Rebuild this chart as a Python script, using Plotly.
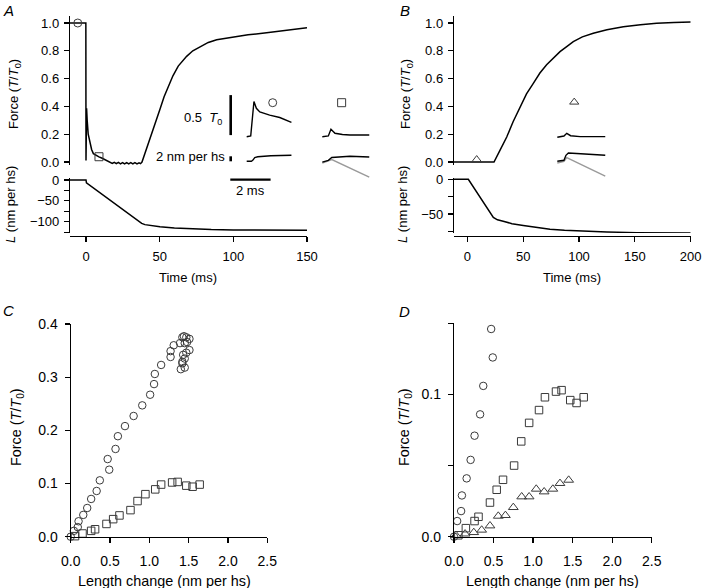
import plotly.graph_objects as go

W, H = 703, 588

# ---------------- DATA ----------------
# Panel A: force (T/T0) and length (nm per hs) vs time (ms)
tA_force = [-11, -0.1, 0.0, 0.4, 0.8, 1.5, 2.7, 3.8, 5.0, 7.0, 8.8, 11, 13, 15, 16.4, 17.8, 19.2,
            20.6, 22, 23.4, 24.8, 26.2, 27.6, 29, 30.4, 31.8, 33.2, 34.6, 36, 37, 38, 40, 43.4,
            46.8, 50.2, 53, 56, 59, 62.6, 68.3, 72.5, 77.4, 83, 88.7, 99.7, 110, 122.6, 135, 150]
fA = [1.0, 1.0, 0.01, 0.386, 0.30, 0.20, 0.137, 0.09, 0.06, 0.045, 0.037, 0.027, 0.016, 0.008,
      0.0, -0.01, -0.002, -0.012, -0.003, -0.013, -0.004, -0.014, -0.004, -0.014, -0.005, -0.014,
      -0.005, -0.014, -0.006, -0.012, 0.0, 0.06, 0.17, 0.28, 0.38, 0.47, 0.55, 0.62, 0.69, 0.76,
      0.80, 0.83, 0.86, 0.88, 0.90, 0.915, 0.93, 0.948, 0.966]
tA_len = [-11, 0, 0.3, 37.8, 40, 44, 50.2, 60, 72.8, 85, 100, 125, 150]
LA = [0, 0, -7, -104, -107, -109.5, -112, -115, -117.5, -119, -120, -120.5, -120.5]

# Panel B
tB_force = [-12, 23.9, 29, 35.3, 41, 47.2, 53, 59.1, 65, 71, 77, 83, 89, 94.9, 103, 112.8, 125,
            139.7, 155, 169.5, 185, 200]
fB = [0, 0, 0.08, 0.18, 0.29, 0.40, 0.49, 0.566, 0.64, 0.70, 0.75, 0.794, 0.83, 0.866, 0.90,
      0.926, 0.952, 0.973, 0.988, 0.998, 1.003, 1.008]
tB_len = [-12, 0.9, 23.3, 27, 33, 40, 50.1, 62, 74, 87, 100.9, 125, 151.6, 175, 200]
LB = [0, 0, -55, -58.5, -61, -64, -66.6, -69.5, -72, -73.5, -74.6, -76, -77, -77.3, -77.5]

# time points of the insets (symbols on the force traces)
markA_t = [-5.6, 8.8]
markA_f = [1.0, 0.038]
markB_t = [8.4]
markB_f = [0.014]

# Panels C/D: force vs length change
circ_x = [0.0, 0.04, 0.09, 0.1, 0.16, 0.21, 0.26, 0.33, 0.37, 0.49, 0.47, 0.57, 0.6, 0.69, 0.8,
          0.91, 1.01, 1.06, 1.07, 1.15, 1.27, 1.27, 1.31, 1.39, 1.42, 1.44, 1.47, 1.51, 1.48, 1.45,
          1.51, 1.47, 1.43, 1.45, 1.42, 1.40, 1.45, 1.42]
circ_y = [0.0, 0.011, 0.018, 0.029, 0.041, 0.054, 0.071, 0.086, 0.106, 0.126, 0.146, 0.165, 0.189,
          0.208, 0.227, 0.247, 0.267, 0.287, 0.306, 0.323, 0.338, 0.349, 0.36, 0.364, 0.375, 0.377,
          0.375, 0.372, 0.366, 0.364, 0.351, 0.346, 0.342, 0.335, 0.326, 0.315, 0.318, 0.329]
sq_x = [0.055, 0.15, 0.26, 0.31, 0.455, 0.54, 0.62, 0.76, 0.85, 0.95, 1.075, 1.15, 1.29, 1.36,
        1.47, 1.55, 1.64]
sq_y = [0.001, 0.006, 0.011, 0.014, 0.024, 0.033, 0.040, 0.050, 0.067, 0.080, 0.089, 0.098,
        0.102, 0.103, 0.096, 0.094, 0.098]
tri_x = [0.025, 0.14, 0.25, 0.35, 0.455, 0.56, 0.65, 0.75, 0.856, 0.95, 1.04, 1.14, 1.25, 1.34, 1.45]
tri_y = [0.001, 0.002, 0.003, 0.0047, 0.0077, 0.0145, 0.015, 0.0206, 0.0281, 0.0281, 0.0335,
         0.0316, 0.0335, 0.0375, 0.0398]

# Insets: fast time course (ms), force (T/T0), length (nm per hs)
ic_t_f = [0, 0.2, 0.36, 0.48, 0.65, 1.14, 1.64, 2.22]
ic_f = [0, 0.01, 0.44, 0.355, 0.31, 0.27, 0.24, 0.18]
ic_t_l = [0, 0.23, 0.3, 0.4, 0.55, 0.75, 1.2, 1.7, 2.22]
ic_l = [0, 0, 0.4, 1.5, 1.8, 2.0, 2.2, 2.3, 2.4]

is_t_f = [0, 0.3, 0.43, 0.63, 1.0, 1.37, 2.33]
is_f = [0, 0.01, 0.093, 0.043, 0.028, 0.021, 0.021]
is_t_l = [0, 0.3, 0.47, 1.37, 2.33]
is_l = [-0.3, 0.4, 1.5, 2.0, 1.7]
is_t_g = [0, 0.3, 0.47, 2.33]
is_g = [-0.7, 0.0, 0.7, -6.3]

it_t_f = [0, 0.33, 0.47, 0.66, 1.13, 2.38]
it_f = [0, 0.016, 0.05, 0.02, 0.008, 0.008]
it_t_l = [0, 0.33, 0.43, 0.55, 0.96, 1.62, 2.38]
it_l = [0, 0.4, 2.4, 3.3, 3.1, 2.8, 2.4]
it_t_g = [0, 0.33, 0.47, 2.38]
it_g = [-0.7, 0.0, 1.5, -5.9]

ins_mark_t = [1.29, 0.96, 0.84]
ins_mark_f = [0.425, 0.425, 0.44]

scale_force = 0.5   # T0
scale_len = 2       # nm per hs
scale_time = 2      # ms

# ---------------- LAYOUT HELPERS ----------------
def fx(p):
    return p / W

def fy(p):
    return 1 - p / H

def dom_x(a, b):
    return [fx(a), fx(b)]

def dom_y(top, bottom):
    return [fy(bottom), fy(top)]

FONT = "Liberation Sans, Arial, Helvetica, sans-serif"
FS = 13      # tick labels, top panels
FS2 = 14     # tick labels, bottom panels
FT = 13      # titles, top panels
FT2 = 14.4   # titles, bottom panels
INK = "black"
MK = "#3a3a3a"

def axis_style(size, standoff):
    return dict(showline=True, linecolor=INK, linewidth=1.2, ticks="outside", ticklen=5,
                tickwidth=1.2, tickcolor=INK, showgrid=False, zeroline=False, automargin=False,
                ticklabelstandoff=standoff,
                tickfont=dict(family=FONT, size=size, color=INK))

fig = go.Figure()

line = dict(color=INK, width=1.5)
# Panel A
fig.add_trace(go.Scatter(x=tA_force, y=fA, mode="lines", line=line, xaxis="x", yaxis="y"))
fig.add_trace(go.Scatter(x=tA_len, y=LA, mode="lines", line=line, xaxis="x", yaxis="y2"))
fig.add_trace(go.Scatter(x=markA_t, y=markA_f, mode="markers", xaxis="x", yaxis="y", cliponaxis=False,
                         marker=dict(symbol=["circle-open", "square-open"], size=8, color=MK,
                                     line=dict(width=1, color=MK))))
# Panel B
fig.add_trace(go.Scatter(x=tB_force, y=fB, mode="lines", line=line, xaxis="x2", yaxis="y3"))
fig.add_trace(go.Scatter(x=tB_len, y=LB, mode="lines", line=line, xaxis="x2", yaxis="y4"))
fig.add_trace(go.Scatter(x=markB_t, y=markB_f, mode="markers", xaxis="x2", yaxis="y3", cliponaxis=False,
                         marker=dict(symbol="triangle-up-open", size=9, color=MK,
                                     line=dict(width=1, color=MK))))

# Panel C
mk = lambda s, sz: dict(symbol=s, size=sz, color=MK, line=dict(width=1, color=MK))
fig.add_trace(go.Scatter(x=circ_x, y=circ_y, mode="markers", marker=mk("circle-open", 7.5),
                         xaxis="x3", yaxis="y5", cliponaxis=False))
fig.add_trace(go.Scatter(x=sq_x, y=sq_y, mode="markers", marker=mk("square-open", 7.5),
                         xaxis="x3", yaxis="y5", cliponaxis=False))
# Panel D (only points within its force range)
D_MAX = 0.15
cD = [(a, b) for a, b in zip(circ_x, circ_y) if b <= D_MAX]
fig.add_trace(go.Scatter(x=[p[0] for p in cD], y=[p[1] for p in cD], mode="markers",
                         marker=mk("circle-open", 7.5), xaxis="x4", yaxis="y6", cliponaxis=False))
fig.add_trace(go.Scatter(x=sq_x, y=sq_y, mode="markers", marker=mk("square-open", 7.5),
                         xaxis="x4", yaxis="y6", cliponaxis=False))
fig.add_trace(go.Scatter(x=tri_x, y=tri_y, mode="markers", marker=mk("triangle-up-open", 8.5),
                         xaxis="x4", yaxis="y6", cliponaxis=False))

# Insets
ln = dict(color=INK, width=1.4)
gr = dict(color="#9a9a9a", width=1.4)
# circle inset: x5 / y7 (force) / y8 (length)
fig.add_trace(go.Scatter(x=ic_t_f, y=ic_f, mode="lines", line=ln, xaxis="x5", yaxis="y7"))
fig.add_trace(go.Scatter(x=ic_t_l, y=ic_l, mode="lines", line=ln, xaxis="x5", yaxis="y8"))
# square inset: x6 / y9 / y10
fig.add_trace(go.Scatter(x=is_t_g, y=is_g, mode="lines", line=gr, xaxis="x6", yaxis="y10"))
fig.add_trace(go.Scatter(x=is_t_f, y=is_f, mode="lines", line=ln, xaxis="x6", yaxis="y9"))
fig.add_trace(go.Scatter(x=is_t_l, y=is_l, mode="lines", line=ln, xaxis="x6", yaxis="y10"))
# triangle inset: x7 / y11 / y12
fig.add_trace(go.Scatter(x=it_t_g, y=it_g, mode="lines", line=gr, xaxis="x7", yaxis="y12"))
fig.add_trace(go.Scatter(x=it_t_f, y=it_f, mode="lines", line=ln, xaxis="x7", yaxis="y11"))
fig.add_trace(go.Scatter(x=it_t_l, y=it_l, mode="lines", line=ln, xaxis="x7", yaxis="y12"))
# inset symbols
for i, (xa, ya, sym) in enumerate([("x5", "y7", "circle-open"), ("x6", "y9", "square-open"),
                                   ("x7", "y11", "triangle-up-open")]):
    fig.add_trace(go.Scatter(x=[ins_mark_t[i]], y=[ins_mark_f[i]], mode="markers", xaxis=xa, yaxis=ya,
                             cliponaxis=False, marker=mk(sym, 8)))

# scale bars (on circle inset axes)
PXMS = 20.15          # inset px per ms
bar_t = (231 - 247) / PXMS
bar = dict(color=INK, width=2.6)
fig.add_trace(go.Scatter(x=[bar_t, bar_t], y=[0.02, 0.02 + scale_force], mode="lines", line=bar,
                         xaxis="x5", yaxis="y7"))
fig.add_trace(go.Scatter(x=[bar_t, bar_t], y=[0, scale_len], mode="lines", line=bar,
                         xaxis="x5", yaxis="y8"))
tbar_y = (161 - 179.3) / 2.5
fig.add_trace(go.Scatter(x=[bar_t - 0.02, bar_t - 0.02 + scale_time], y=[tbar_y, tbar_y], mode="lines",
                         line=dict(color=INK, width=2.4), xaxis="x5", yaxis="y8"))

# ---------------- AXES ----------------
lay = dict()
# Panel A
lay["xaxis"] = dict(axis_style(FS, 3), domain=dom_x(70, 307), range=[-16 / 1.4733, 150],
                    tickvals=[0, 50, 100, 150], anchor="free", position=fy(236))
lay["yaxis"] = dict(axis_style(FS, 2), domain=dom_y(16, 165), range=[-3 / 139, 1 + 7 / 139],
                    tickvals=[0, 0.2, 0.4, 0.6, 0.8, 1.0], tickformat=".1f", anchor="x")
lay["yaxis2"] = dict(axis_style(FS, 2), domain=dom_y(178, 233), range=[-53 / 0.417, 2 / 0.417],
                     tickvals=[-125, -100, -75, -50, -25, 0],
                     ticktext=["", "\u2212100", "", "\u221250", "", "0"], anchor="x")
# Panel B
pxB = (690.7 - 467.3) / 200
lay["xaxis2"] = dict(axis_style(FS, 3), domain=dom_x(454, 690.7), range=[-(467.3 - 454) / pxB, 200],
                     tickvals=[0, 50, 100, 150, 200], anchor="free", position=fy(236))
lay["yaxis3"] = dict(axis_style(FS, 2), domain=dom_y(16, 165), range=[-3 / 139, 1 + 7 / 139],
                     tickvals=[0, 0.2, 0.4, 0.6, 0.8, 1.0], tickformat=".1f", anchor="x2")
lay["yaxis4"] = dict(axis_style(FS, 2), domain=dom_y(178, 233), range=[-(233 - 179.3) / 0.693, 1.3 / 0.693],
                     tickvals=[-75, -50, -25, 0], ticktext=["", "\u221250", "", "0"], anchor="x2")
# Panel C
lay["xaxis3"] = dict(axis_style(FS2, 6), domain=dom_x(70.7, 267.3), range=[0, 2.5],
                     tickvals=[0, 0.5, 1.0, 1.5, 2.0, 2.5], tickformat=".1f", anchor="y5")
lay["yaxis5"] = dict(axis_style(FS2, 4), domain=dom_y(324, 536.7), range=[0, 0.4],
                     tickvals=[0, 0.1, 0.2, 0.3, 0.4], tickformat=".1f", anchor="x3")
# Panel D
lay["xaxis4"] = dict(axis_style(FS2, 6), domain=dom_x(454, 651.7), range=[0, 2.5],
                     tickvals=[0, 0.5, 1.0, 1.5, 2.0, 2.5], tickformat=".1f", anchor="y6")
lay["yaxis6"] = dict(axis_style(FS2, 4), domain=dom_y(323.3, 536.7), range=[0, 0.15],
                     tickvals=[0, 0.05, 0.1, 0.15], ticktext=["0.0", "", "0.1", ""], anchor="x4")

# Inset axes (hidden)
def inset_x(left, right, t0px):
    return dict(visible=False, automargin=False, domain=dom_x(left, right),
                range=[(left - t0px) / PXMS, (right - t0px) / PXMS], fixedrange=True)

def inset_yf(base_px, anchor):
    top, bot = 93, 141
    return dict(visible=False, automargin=False, domain=dom_y(top, bot),
                range=[-(bot - base_px) / 80, (base_px - top) / 80], anchor=anchor)

def inset_yl(base_px, anchor):
    top, bot = 146, 184
    return dict(visible=False, automargin=False, domain=dom_y(top, bot),
                range=[-(bot - base_px) / 2.5, (base_px - top) / 2.5], anchor=anchor)

lay["xaxis5"] = inset_x(222, 296, 246.7)
lay["yaxis7"] = inset_yf(136.7, "x5")
lay["yaxis8"] = inset_yl(161.3, "x5")
lay["xaxis6"] = inset_x(314, 372, 322.3)
lay["yaxis9"] = inset_yf(136.7, "x6")
lay["yaxis10"] = inset_yl(161.3, "x6")
lay["xaxis7"] = inset_x(550, 610, 557.3)
lay["yaxis11"] = inset_yf(137.3, "x7")
lay["yaxis12"] = inset_yl(161.3, "x7")

# ---------------- TEXT ----------------
def ann(text, x, y, size=FT, angle=0, xanchor="center", italic=False):
    t = f"<i>{text}</i>" if italic else text
    return dict(text=t, x=fx(x), y=fy(y), xref="paper", yref="paper", showarrow=False,
                textangle=angle, xanchor=xanchor, yanchor="middle",
                font=dict(family=FONT, size=size, color=INK))

force_t = "Force (<i>T</i>/<i>T</i><sub>0</sub>)"
len_t = "<i>L</i> (nm per hs)"
annotations = [
    ann("A", 8, 10, size=15, italic=True),
    ann("B", 404.7, 10, size=15, italic=True),
    ann("C", 8, 310.5, size=15, italic=True),
    ann("D", 404.7, 311, size=15, italic=True),
    ann(force_t, 14, 94, angle=-90),
    ann(len_t, 10, 205, angle=-90),
    ann("Time (ms)", 188.5, 277),
    ann(force_t, 406, 94, angle=-90),
    ann(len_t, 402, 205, angle=-90),
    ann("Time (ms)", 572, 277),
    ann(force_t, 17, 427, size=FT2, angle=-90),
    ann("Length change (nm per hs)", 164, 581, size=FT2),
    ann(force_t, 405, 427, size=FT2, angle=-90),
    ann("Length change (nm per hs)", 552, 581, size=FT2),
    ann("0.5\u00a0\u00a0<i>T</i><sub>0</sub>", 224, 119, xanchor="right"),
    ann("2 nm per hs", 227, 156, xanchor="right"),
    ann("2 ms", 250.5, 190),
]

fig.update_layout(**lay)
fig.update_layout(template="none", annotations=annotations, width=W, height=H, showlegend=False,
                  margin=dict(l=0, r=0, t=0, b=0, autoexpand=False), paper_bgcolor="white",
                  plot_bgcolor="rgba(0,0,0,0)", font=dict(family=FONT, size=FS, color=INK))

fig.write_html("out.html", config={"displayModeBar": False, "staticPlot": True},
               post_script="document.body.style.margin='0px';document.body.style.overflow='hidden';")
